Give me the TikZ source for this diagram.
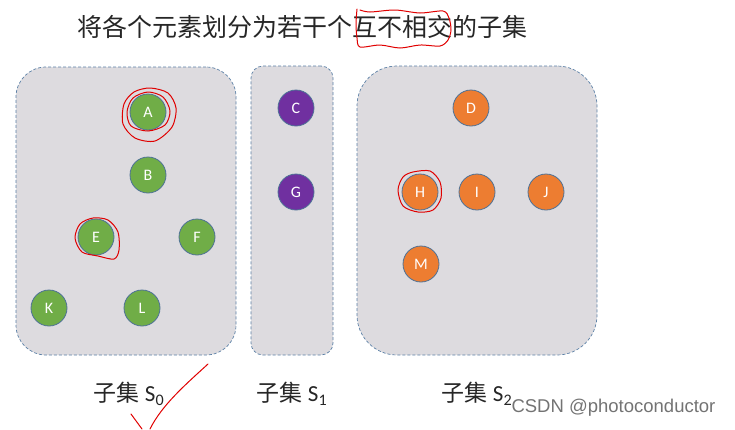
\documentclass[tikz,border=0pt]{standalone}
\usepackage{fontspec}
\setmainfont{Carlito}
\newfontfamily\cjk{Noto Sans CJK SC}
\newfontfamily\wmfont{Liberation Sans}
\usepackage{tikz}
\usetikzlibrary{positioning}
\usepackage{xcolor}
\definecolor{setgray}{HTML}{DDDBDF}
\definecolor{setline}{HTML}{5B80A6}
\definecolor{elemgreen}{HTML}{70AD47}
\definecolor{elempurple}{HTML}{7030A0}
\definecolor{elemorange}{HTML}{ED7D31}
\definecolor{elemline}{HTML}{4D7196}
\definecolor{penred}{HTML}{E00000}

\begin{document}
\begin{tikzpicture}[
  x=1pt, y=-1pt,
  setbox/.style={draw=setline, fill=setgray, dashed, dash pattern=on 3pt off 2pt, line width=0.7pt},
  elem/.style={circle, draw=elemline, line width=0.8pt, minimum size=36pt, inner sep=0pt, text=white, font=\fontsize{16}{16}\selectfont},
  green/.style={elem, fill=elemgreen},
  purple/.style={elem, fill=elempurple},
  orange/.style={elem, fill=elemorange},
  caption/.style={font=\fontsize{23}{23}\selectfont, text=black!85},
  pen/.style={draw=penred, line width=1pt, line cap=round, line join=round}
]
\useasboundingbox (0,0) rectangle (735,429);
% title
\node[font=\cjk\fontsize{25}{25}\selectfont, text=black!85] (title) at (302,27) {将各个元素划分为若干个互不相交的子集};
% the three sets
\node[setbox, rounded corners=30pt, minimum width=220pt, minimum height=288pt] (s0) at (126,211) {};
\node[setbox, rounded corners=12pt, minimum width=82pt, minimum height=289pt] (s1) at (292,210.5) {};
\node[setbox, rounded corners=40pt, minimum width=240pt, minimum height=289pt] (s2) at (477,210.5) {};
% elements of S0
\node[green] (a) at (148,112) {A};
\node[green] (b) at (148,175) {B};
\node[green] (e) at (96,237) {E};
\node[green] (f) at (197,237) {F};
\node[green] (k) at (49,308) {K};
\node[green] (l) at (142,308) {L};
% elements of S1
\node[purple] (c) at (296,108) {C};
\node[purple] (g) at (296,192) {G};
% elements of S2
\node[orange] (d) at (471,108) {D};
\node[orange] (h) at (420,192) {H};
\node[orange] (i) at (477,192) {I};
\node[orange] (j) at (546,192) {J};
\node[orange] (m) at (421,264) {M};
% captions
\node[caption] (c0) at (129,394) {{\cjk 子集} S\textsubscript{0}};
\node[caption] (c1) at (292,394) {{\cjk 子集} S\textsubscript{1}};
\node[caption] (c2) at (477,394) {{\cjk 子集} S\textsubscript{2}};
\node[font=\wmfont\fontsize{18.5}{18.5}\selectfont, text=black!55, anchor=west] (wm) at (508,408) {CSDN @photoconductor};
% red pen marks
\draw[pen] plot[smooth] coordinates {(357,9) (356,24) (357,38) (360,47) (380,45) (400,48) (420,45) (440,46) (448,40) (451,30) (449,18) (443,11) (420,13) (395,10) (370,12) (360,10)};
\draw[pen] plot[smooth cycle] coordinates {(150,88) (168,93) (176,108) (172,127) (155,141) (135,138) (123,124) (124,104) (134,92)};
\draw[pen] plot[smooth cycle] coordinates {(148,92) (163,97) (170,111) (165,125) (148,131) (131,126) (127,112) (133,98)};
\draw[pen] plot[smooth cycle] coordinates {(93,218) (108,220) (118,232) (119,250) (114,259) (98,256) (82,252) (75,238) (80,224)};
\draw[pen] plot[smooth cycle] coordinates {(413,172) (430,171) (440,182) (441,198) (433,210) (418,212) (403,206) (398,190) (403,177)};
\draw[pen] (208,364) .. controls (185,385) and (162,405) .. (150,429);
\draw[pen] (131,414) -- (142,429);
\end{tikzpicture}
\end{document}
